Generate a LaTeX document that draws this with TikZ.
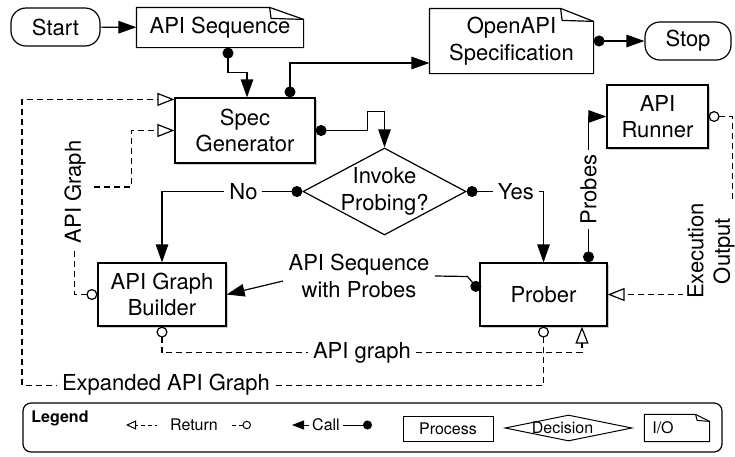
\documentclass[tikz,border=0pt]{standalone}
\usepackage{fontspec}
\setmainfont{TeX Gyre Heros}
\usetikzlibrary{arrows.meta,shapes.geometric,shadows}
\newcommand\fmain{\fontsize{22}{26.5}\selectfont}
\newcommand\fleg{\fontsize{16}{19}\selectfont}
% document outline with a folded top-right corner: options, node, fold width, fold height
\newcommand\docframe[4]{%
  \draw[line join=round,#1] (#2.south west) -- (#2.north west) -- ([xshift=-#3]#2.north east)
    -- ([yshift=-#4]#2.north east) -- (#2.south east) -- cycle;
  \draw[line join=round,#1] ([xshift=-#3]#2.north east) -- ([xshift=-#3+1.5pt,yshift=-#4+1pt]#2.north east)
    -- ([yshift=-#4]#2.north east);
}
\begin{document}
\begin{tikzpicture}[x=1pt,y=-1pt,line width=1.2pt,
  box/.style={draw,fill=white,inner sep=0pt,align=center,font=\fmain,
    drop shadow={shadow xshift=2pt,shadow yshift=-2pt,opacity=0.4}},
  term/.style={draw,rounded corners=15pt,inner sep=0pt,font=\fmain},
  doc/.style={inner sep=0pt,align=center,font=\fmain},
  lbl/.style={fill=white,inner sep=5pt,font=\fmain,align=center},
  dotcall/.style={{Circle[length=11pt]}-{Triangle[length=18pt,width=12.5pt]}},
  call/.style={-{Triangle[length=18pt,width=12.5pt]}},
  ret/.style={dash pattern=on 6pt off 4pt,{Circle[open,length=11pt]}-{Triangle[open,length=17pt,width=13pt]}},
]
\useasboundingbox (0,0) rectangle (735,456);

% main flow nodes
\node[term,minimum width=89pt,minimum height=38pt] (start) at (55.5,27) {Start};
\node[doc,minimum width=166pt,minimum height=39pt] (apiseq) at (220,27.5) {API Sequence};
\node[box,minimum width=140pt,minimum height=65pt] (spec) at (245,130.5) {Spec\\Generator};
\node[doc,minimum width=163pt,minimum height=64pt] (oapi) at (511.5,41) {OpenAPI\\Specification};
\node[term,minimum width=86pt,minimum height=38pt] (stop) at (688,41) {Stop};
\node[draw,diamond,inner sep=0pt,minimum width=163pt,minimum height=87pt,
  label={[font=\fmain,align=center]center:Invoke\\Probing?}] (probe) at (384.5,191.5) {};
\node[box,minimum width=128pt,minimum height=63pt] (builder) at (162,294.5) {API Graph\\Builder};
\node[box,minimum width=127pt,minimum height=63pt] (prober) at (543.5,294.5) {Prober};
\node[box,minimum width=101pt,minimum height=63pt] (runner) at (657.5,116.5) {API\\Runner};
\docframe{}{apiseq}{34pt}{12pt}
\docframe{}{oapi}{33pt}{13pt}

% calls
\draw[call] (start) -- (apiseq);
\draw[dotcall] ([xshift=8pt]apiseq.south) -- ++(0,25) -| ([xshift=2pt]spec.north);
\draw[dotcall] ([xshift=45pt]spec.north) |- ([yshift=-22pt]oapi.west);
\draw[dotcall] (oapi) -- (stop);
\draw[dotcall] (spec.east) -- ++(52,0) -- ++(0,-19) -| (probe.north);
\draw[dotcall] (probe.west) -| node[lbl,pos=0.21]{No} (builder.north);
\draw[dotcall] (probe.east) -| node[lbl,pos=0.32]{Yes} (prober.north);
\draw[dotcall] ([xshift=45pt]prober.north) |- node[lbl,pos=0.25,rotate=90]{Probes} (runner.west);
\node[lbl] (seqlbl) at (359,276) {API Sequence\\with Probes};
\draw[{Circle[length=11pt]}-] ([yshift=4pt]prober.west) -- ++(-12,-14) -- (seqlbl.east);
\draw[call] ([yshift=-5pt]seqlbl.west) -- (builder.east);

% returns
\draw[ret] (runner.east) -- ++(24,0) |- (prober.east);
\node[lbl,rotate=90,inner sep=4pt] (execlbl) at (711,251) {Execution\\Output};
\draw[ret] (builder.west) -| ++(-23,-107.5) -- ++(57,0) |- (spec.west);
\node[lbl,rotate=90] (graphlbl) at (75,192) {API Graph};
\draw[ret] (builder.south) -- ++(0,26) -| node[lbl,pos=0.238]{API graph} ([xshift=38.5pt]prober.south);
\draw[ret] (prober.south) -- ++(0,58.5) -- node[lbl,pos=0.724]{Expanded API Graph} ++(-521.5,0)
  |- ([yshift=-2pt]spec.north west);

% legend
\node[draw,rounded corners=8pt,minimum width=699pt,minimum height=49pt,inner sep=0pt] (legend) at (372.5,427.5) {};
\node[font=\fleg\bfseries] (legtitle) at (60,418) {Legend};
\coordinate (rA) at (251,425);
\coordinate (rB) at (126,425);
\draw[line width=1pt,dash pattern=on 4pt off 3pt,{Circle[open,length=8.5pt]}-{Triangle[open,length=10pt,width=9pt]}]
  (rA) -- node[fill=white,font=\fleg,inner xsep=13pt,inner ysep=2pt,pos=0.456]{Return} (rB);
\coordinate (cA) at (372,425);
\coordinate (cB) at (292,425);
\draw[line width=1pt,{Circle[length=9pt]}-{Triangle[length=12pt,width=9pt]}]
  (cA) -- node[fill=white,font=\fleg,inner xsep=3pt,inner ysep=2pt,pos=0.575]{Call} (cB);
\node[draw,line width=1pt,minimum width=90pt,minimum height=25pt,font=\fleg,inner sep=0pt] (lgproc) at (448,428.5) {Process};
\node[draw,diamond,line width=1pt,minimum width=127pt,minimum height=26pt,inner sep=0pt,
  label={[font=\fleg,xshift=-6pt]center:Decision}] (lgdec) at (568.5,428) {};
\node[minimum width=64pt,minimum height=26pt,inner sep=0pt] (lgio) at (677,428) {};
\docframe{line width=1pt}{lgio}{14pt}{7pt}
\node[font=\fleg] (lgiotext) at (663,428) {I/O};
\end{tikzpicture}
\end{document}
